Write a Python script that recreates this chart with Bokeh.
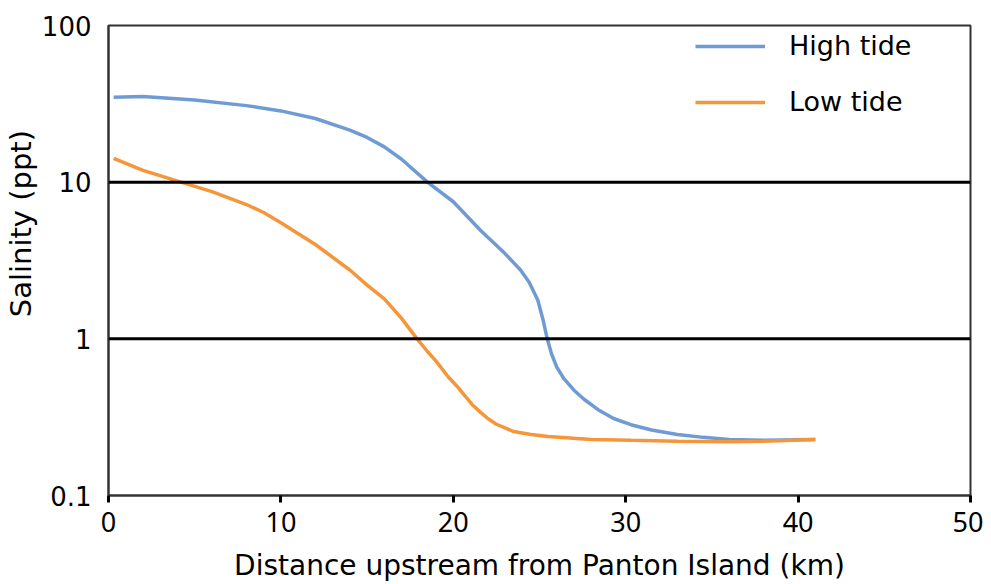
from bokeh.plotting import figure
from bokeh.models import Span, FixedTicker, Legend, LegendItem
from bokeh.embed import file_html
from bokeh.resources import INLINE

# Data
high_x = [0.3, 2, 5, 8, 10, 12, 14, 15, 16, 17, 18.5, 20, 21.6, 23, 23.9, 24.4, 24.9, 25.2,
          25.45, 25.7, 26.0, 26.4, 27.0, 27.6, 28.4, 29.3, 30.3, 31.5, 33, 34.5, 36, 38, 41]
high_y = [34.8, 35.2, 33.5, 30.8, 28.5, 25.5, 21.5, 19.3, 16.8, 14.0, 10.0, 7.5, 4.9, 3.5, 2.75, 2.3, 1.77, 1.33,
          1.0, 0.8, 0.66, 0.56, 0.47, 0.41, 0.353, 0.31, 0.283, 0.262, 0.245, 0.235, 0.228, 0.225, 0.228]
low_x = [0.3, 2, 4.2, 6, 8, 9, 10, 12, 14, 15, 16, 17, 17.9, 18.5, 19, 19.7, 20.2, 20.7, 21.1, 21.6, 22, 22.5,
         23.5, 24.5, 25.5, 28, 30.3, 33, 36, 38, 41]
low_y = [14.2, 11.9, 10.0, 8.7, 7.2, 6.4, 5.5, 4.0, 2.75, 2.2, 1.8, 1.35, 1.0, 0.83, 0.72, 0.573, 0.5, 0.43, 0.38, 0.338, 0.31, 0.285,
         0.256, 0.245, 0.238, 0.228, 0.225, 0.222, 0.22, 0.222, 0.228]
ref_levels = [10, 1]
x_ticks = [0, 10, 20, 30, 40, 50]
y_ticks = [0.1, 1, 10, 100]
y_tick_labels = ["0.1", "1", "10", "100"]
y_title = "Salinity (ppt)"
x_title = "Distance upstream from Panton Island (km)"

FONT = "DejaVu Sans"

p = figure(width=983, height=584, output_backend="svg", toolbar_location=None,
           y_axis_type="log", x_range=(0, 50), y_range=(0.1, 100),
           min_border_left=108, min_border_top=25, min_border_right=13, min_border_bottom=89)
p.xgrid.visible = False
p.ygrid.visible = False
p.outline_line_color = "#333333"
p.outline_line_width = 2

for lv in ref_levels:
    p.add_layout(Span(location=lv, dimension="width", line_color="black", line_width=3))

r1 = p.line(high_x, high_y, line_color="#6e9bd4", line_width=3.5)
r2 = p.line(low_x, low_y, line_color="#f5963a", line_width=3.5)

legend = Legend(items=[LegendItem(label="High tide", renderers=[r1]),
                       LegendItem(label="Low tide", renderers=[r2])],
                location=(587, 378))
legend.border_line_color = None
legend.background_fill_alpha = 0
legend.glyph_width = 70
legend.glyph_height = 30
legend.label_height = 30
legend.spacing = 25
legend.padding = 0
legend.margin = 0
legend.label_standoff = 24
legend.label_text_font = FONT
legend.label_text_font_size = "27px"
legend.label_text_color = "black"
legend.label_text_baseline = "middle"
p.add_layout(legend)

xa = p.xaxis[0]
xa.ticker = FixedTicker(ticks=x_ticks)
xa.axis_label = x_title
xa.axis_label_text_font = FONT
xa.axis_label_text_font_size = "28px"
xa.axis_label_text_font_style = "normal"
xa.axis_label_text_color = "black"
xa.axis_label_standoff = 14
xa.major_label_text_font = "Noto Sans"
xa.major_label_text_font_size = "27px"
xa.major_label_text_color = "black"
xa.major_tick_in = 0
xa.major_tick_out = 7
xa.major_tick_line_width = 3
xa.major_tick_line_color = "black"
xa.minor_tick_line_color = None
xa.axis_line_color = "#333333"
xa.axis_line_width = 2
xa.major_label_standoff = 9

ya = p.yaxis[0]
ya.ticker = FixedTicker(ticks=y_ticks, minor_ticks=[])
ya.major_label_overrides = {t: s for t, s in zip(y_ticks, y_tick_labels)}
ya.axis_label = "\u00a0" * 8 + y_title
ya.axis_label_text_font = FONT
ya.axis_label_text_font_size = "29px"
ya.axis_label_text_font_style = "normal"
ya.axis_label_text_color = "black"
ya.axis_label_standoff = 1
ya.major_label_text_font = FONT
ya.major_label_text_font_size = "26px"
ya.major_label_text_color = "black"
ya.major_tick_in = 0
ya.major_tick_out = 0
ya.minor_tick_line_color = None
ya.axis_line_color = "#333333"
ya.axis_line_width = 2
ya.major_label_standoff = 17

open("out.html", "w").write(file_html(p, INLINE))
